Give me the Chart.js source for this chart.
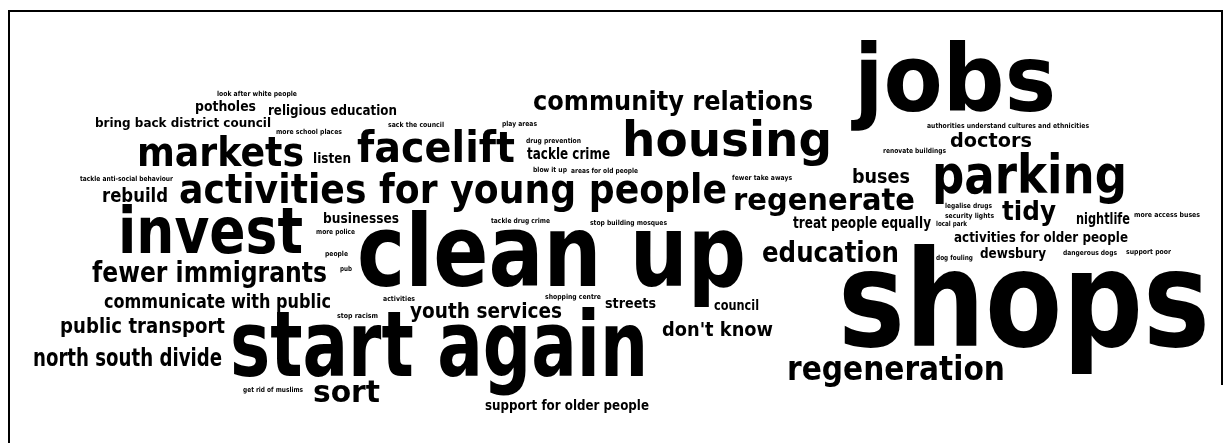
<!DOCTYPE html>
<html>
<head>
<meta charset="utf-8">
<script src="https://cdn.jsdelivr.net/npm/chart.js@4/dist/chart.umd.min.js"></script>
<style>
  html, body { margin: 0; padding: 0; background: #fff; }
  #wrap { width: 1231px; height: 443px; position: relative; }
</style>
</head>
<body>
<div id="wrap"><canvas id="chart" width="1231" height="443"></canvas></div>
<script>
// word cloud: each word sits at (left, baseline) and runs to its right end, weight = size
const words = [
  'jobs', 'shops', 'clean up', 'start again', 'invest',
  'activities for young people', 'markets', 'facelift', 'housing', 'parking',
  'regenerate', 'regeneration', 'education', 'community relations', 'fewer immigrants',
  'sort', 'youth services', 'north south divide', 'public transport', 'communicate with public',
  "don't know", 'rebuild', 'tidy', 'doctors', 'buses',
  'treat people equally', 'activities for older people', 'dewsbury', 'nightlife', 'tackle crime',
  'streets', 'council', 'support for older people', 'businesses', 'potholes',
  'religious education', 'bring back district council', 'listen',
  'look after white people', 'more school places', 'tackle anti-social behaviour', 'sack the council',
  'play areas', 'drug prevention', 'blow it up', 'areas for old people',
  'tackle drug crime', 'stop building mosques', 'more police', 'people',
  'pub', 'activities', 'shopping centre', 'stop racism',
  'get rid of muslims', 'fewer take aways', 'renovate buildings',
  'authorities understand cultures and ethnicities', 'legalise drugs', 'security lights',
  'local park', 'more access buses', 'dog fouling', 'dangerous dogs', 'support poor'
];
const xStart = [
  854, 838, 357, 230, 118,
  179, 137, 357, 622, 932,
  733, 787, 762, 533, 92,
  313, 410, 33, 60, 104,
  662, 102, 1002, 950, 852,
  793, 954, 980, 1076, 527,
  605, 714, 485, 323, 195,
  268, 95, 313,
  217, 276, 80, 388,
  502, 526, 533, 571,
  491, 590, 316, 325,
  340, 383, 545, 337,
  243, 732, 883,
  927, 945, 945,
  936, 1134, 936, 1063, 1126
];
const xEnd = [
  1056, 1210, 746, 648, 303,
  727, 304, 515, 832, 1127,
  915, 1005, 899, 813, 327,
  380, 562, 222, 225, 331,
  773, 168, 1056, 1032, 910,
  931, 1128, 1046, 1130, 610,
  656, 759, 649, 399, 256,
  397, 271, 351,
  297, 342, 173, 444,
  537, 581, 567, 638,
  550, 667, 355, 348,
  352, 415, 601, 378,
  303, 792, 946,
  1089, 992, 994,
  967, 1200, 973, 1117, 1171
];
const yBase = [
  111, 346, 286, 376, 253,
  203, 166, 162, 156, 193,
  210, 380, 262, 110, 282,
  402, 318, 366, 333, 308,
  336, 202, 220, 147, 183,
  228, 242, 258, 224, 159,
  308, 310, 410, 223, 111,
  115, 127, 163,
  96, 134, 181, 127,
  126, 143, 172, 173,
  223, 225, 234, 256,
  271, 301, 299, 318,
  392, 180, 153,
  128, 208, 218,
  226, 217, 260, 255, 254
];
const weights = [
  93, 134, 100, 90, 64,
  41, 41, 43, 48, 54,
  31, 34, 29, 27, 28,
  31, 21, 24, 21, 20,
  20, 20, 27, 19, 20,
  15, 14, 14, 15, 15,
  14, 14, 14, 14, 14,
  14, 13, 14,
  7, 7, 7, 7,
  7, 7, 7, 7,
  7, 7, 7, 7,
  7, 7, 7, 7,
  7, 7, 7,
  7, 7, 7,
  7, 7, 7, 7, 7
];

const wordPlugin = {
  id: 'wordPlugin',
  beforeDraw(chart) {
    const ctx = chart.ctx;
    ctx.save();
    ctx.fillStyle = '#fff';
    ctx.fillRect(0, 0, chart.width, chart.height);
    ctx.strokeStyle = '#000';
    ctx.lineWidth = 2;
    ctx.beginPath();
    ctx.moveTo(9, chart.height);
    ctx.lineTo(9, 11);
    ctx.lineTo(1222, 11);
    ctx.lineTo(1222, 385);
    ctx.stroke();
    ctx.restore();
  },
  afterDatasetsDraw(chart) {
    const ctx = chart.ctx;
    const xs = chart.scales.x;
    const ys = chart.scales.y;
    const meta = chart.getDatasetMeta(0);
    ctx.save();
    ctx.fillStyle = '#000';
    ctx.textBaseline = 'alphabetic';
    ctx.textAlign = 'left';
    meta.data.forEach((pt, i) => {
      const size = Math.abs(ys.getPixelForValue(0) - ys.getPixelForValue(weights[i]));
      const right = xs.getPixelForValue(xEnd[i]);
      ctx.font = 'bold ' + size + 'px "DejaVu Sans"';
      const w = ctx.measureText(words[i]).width;
      const sx = (right - pt.x) / w;
      ctx.save();
      ctx.translate(pt.x, pt.y);
      ctx.scale(sx, 1);
      ctx.fillText(words[i], 0, 0);
      ctx.restore();
    });
    ctx.restore();
  }
};

new Chart(document.getElementById('chart'), {
  type: 'scatter',
  data: {
    datasets: [{
      data: words.map((w, i) => ({ x: xStart[i], y: yBase[i] })),
      pointRadius: 0,
      pointHoverRadius: 0
    }]
  },
  options: {
    responsive: false,
    animation: false,
    layout: { padding: 0 },
    scales: {
      x: { type: 'linear', min: 0, max: 1231, display: false },
      y: { type: 'linear', min: 0, max: 443, reverse: true, display: false }
    },
    plugins: {
      legend: { display: false },
      tooltip: { enabled: false }
    },
    events: []
  },
  plugins: [wordPlugin]
});
</script>
</body>
</html>
